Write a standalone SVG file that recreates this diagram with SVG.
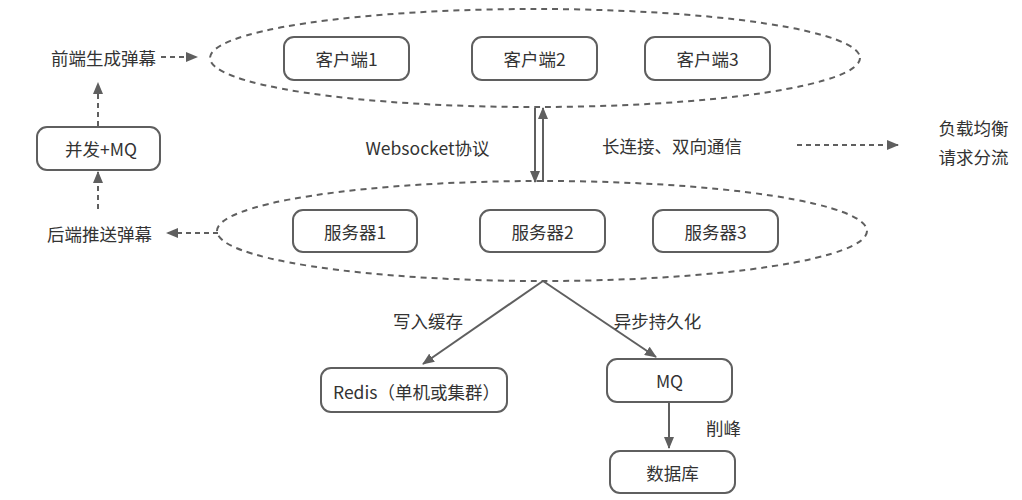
<svg xmlns="http://www.w3.org/2000/svg" width="1022" height="500" viewBox="0 0 1022 500">
<defs>
<style>
text{font-family:"Noto Sans CJK SC","Microsoft YaHei","Liberation Sans",sans-serif;font-size:17.5px;fill:#333;dominant-baseline:central}
.box{fill:#fff;stroke:#5f5f5f;stroke-width:2}
.ell{fill:none;stroke:#5f5f5f;stroke-width:2;stroke-dasharray:6 5}
.dash{fill:none;stroke:#5f5f5f;stroke-width:2;stroke-dasharray:5 4}
.solid{fill:none;stroke:#5f5f5f;stroke-width:2}
</style>
<marker id="ah" markerWidth="12" markerHeight="10" refX="11" refY="5" orient="auto" markerUnits="userSpaceOnUse">
<path d="M0,0 L12,5 L0,10 Z" fill="#5f5f5f"/>
</marker>
</defs>
<rect width="1022" height="500" fill="#fff"/>
<g id="connectors">
<ellipse class="ell" cx="535" cy="58" rx="325" ry="49"/>
<ellipse class="ell" cx="542" cy="231" rx="325" ry="50"/>
<line class="dash" x1="161" y1="57" x2="197" y2="57" marker-end="url(#ah)"/>
<line class="dash" x1="98" y1="126" x2="98" y2="83" marker-end="url(#ah)"/>
<line class="dash" x1="98" y1="209" x2="98" y2="172" marker-end="url(#ah)"/>
<line class="dash" x1="218" y1="233" x2="167" y2="233" marker-end="url(#ah)"/>
<line class="dash" x1="797" y1="145" x2="898" y2="145" marker-end="url(#ah)"/>
<line class="solid" x1="535" y1="108" x2="535" y2="182" marker-end="url(#ah)"/>
<line class="solid" x1="543" y1="182" x2="543" y2="108" marker-end="url(#ah)"/>
<line class="solid" x1="543" y1="281" x2="423" y2="364" marker-end="url(#ah)"/>
<line class="solid" x1="543" y1="281" x2="656" y2="357" marker-end="url(#ah)"/>
<line class="solid" x1="669" y1="402" x2="669" y2="448" marker-end="url(#ah)"/>
</g>
<g id="client1"><rect class="box" x="284" y="37" width="125" height="43" rx="10"/><text x="346.5" y="58.5" text-anchor="middle">客户端1</text></g>
<g id="client2"><rect class="box" x="472" y="37" width="125" height="43" rx="10"/><text x="534.5" y="58.5" text-anchor="middle">客户端2</text></g>
<g id="client3"><rect class="box" x="645" y="37" width="125" height="43" rx="10"/><text x="707.5" y="58.5" text-anchor="middle">客户端3</text></g>
<g id="server1"><rect class="box" x="293" y="210" width="124" height="42" rx="10"/><text x="355" y="231" text-anchor="middle">服务器1</text></g>
<g id="server2"><rect class="box" x="480" y="210" width="125" height="42" rx="10"/><text x="542.5" y="231" text-anchor="middle">服务器2</text></g>
<g id="server3"><rect class="box" x="653" y="210" width="125" height="42" rx="10"/><text x="715.5" y="231" text-anchor="middle">服务器3</text></g>
<g id="concurrency"><rect class="box" x="37" y="127" width="123" height="43" rx="10"/><text x="101" y="148.5" text-anchor="middle">并发+MQ</text></g>
<g id="redis"><rect class="box" x="321" y="368" width="186" height="44" rx="10"/><text x="333" y="391">Redis（单机或集群）</text></g>
<g id="mq"><rect class="box" x="607" y="359" width="125" height="43" rx="10"/><text x="669.5" y="380.5" text-anchor="middle">MQ</text></g>
<g id="db"><rect class="box" x="610" y="451" width="125" height="42" rx="10"/><text x="672.5" y="472" text-anchor="middle">数据库</text></g>
<g id="labels">
<text x="103.5" y="57" text-anchor="middle">前端生成弹幕</text>
<text x="99.5" y="233" text-anchor="middle">后端推送弹幕</text>
<text x="427.5" y="147" text-anchor="middle">Websocket协议</text>
<text x="672" y="145" text-anchor="middle">长连接、双向通信</text>
<text x="973.5" y="127" text-anchor="middle">负载均衡</text>
<text x="973.5" y="156" text-anchor="middle">请求分流</text>
<text x="428" y="320" text-anchor="middle">写入缓存</text>
<text x="657.5" y="320" text-anchor="middle">异步持久化</text>
<text x="723.5" y="427" text-anchor="middle">削峰</text>
</g>
</svg>
